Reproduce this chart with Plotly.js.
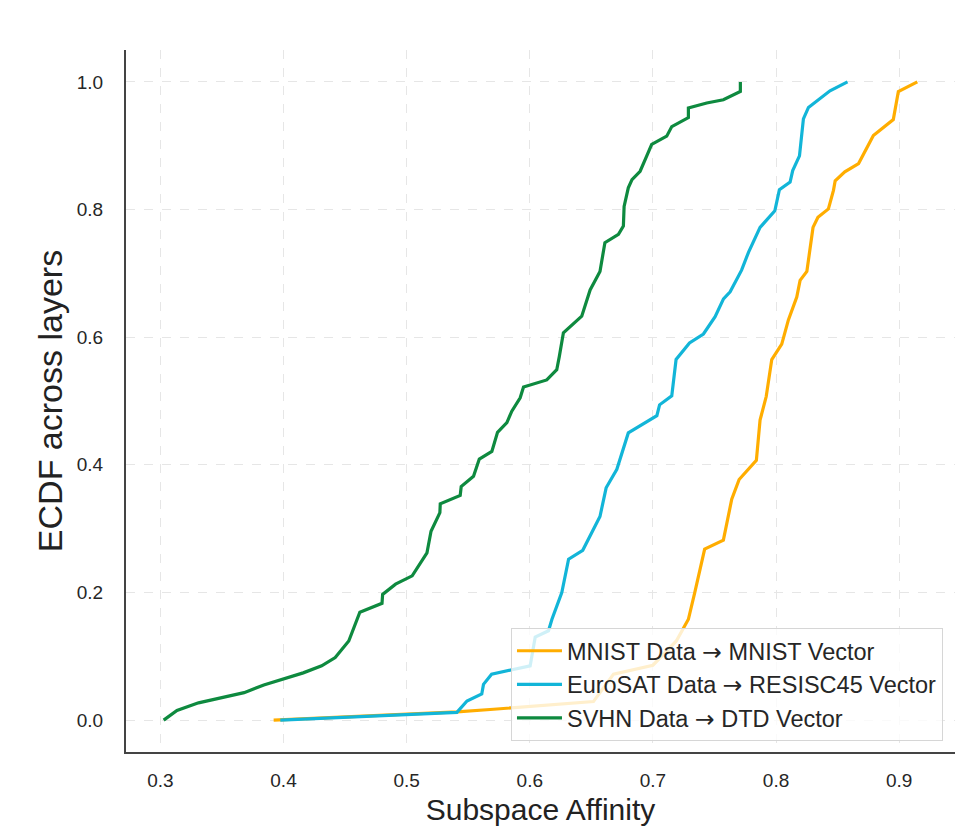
<!DOCTYPE html>
<html>
<head>
<meta charset="utf-8">
<script src="https://cdn.plot.ly/plotly-3.0.1.min.js"></script>
<style>html,body{margin:0;padding:0;background:#fff;}#chart{width:967px;height:827px;}</style>
</head>
<body>
<div id="chart"></div>
<script>
// Series names
const arrow = "<span style='font-family:DejaVu Sans'>\u2192</span>";
const seriesNames = [
  "MNIST Data " + arrow + " MNIST Vector",
  "EuroSAT Data " + arrow + " RESISC45 Vector",
  "SVHN Data " + arrow + " DTD Vector"
];
const seriesColors = ["#FFAD00", "#12B5D8", "#0E8A3F"];

// MNIST Data -> MNIST Vector (affinity, ECDF)
const mnistX = [0.392, 0.541, 0.5706, 0.6517, 0.668, 0.700, 0.719, 0.7288, 0.734, 0.7383, 0.742, 0.7572, 0.764, 0.770, 0.784, 0.787, 0.792, 0.7965, 0.8046, 0.810, 0.8168, 0.8195, 0.825, 0.830, 0.834, 0.8425, 0.8466, 0.848, 0.8558, 0.867, 0.879, 0.8952, 0.8993, 0.9147];
const mnistY = [0.000, 0.013, 0.017, 0.029, 0.072, 0.086, 0.124, 0.158, 0.200, 0.236, 0.268, 0.282, 0.346, 0.377, 0.407, 0.470, 0.507, 0.565, 0.589, 0.627, 0.663, 0.689, 0.703, 0.772, 0.788, 0.801, 0.830, 0.845, 0.859, 0.872, 0.916, 0.941, 0.985, 1.000];

// EuroSAT Data -> RESISC45 Vector
const eurosatX = [0.3974, 0.5408, 0.549, 0.561, 0.5624, 0.569, 0.6003, 0.6044, 0.6152, 0.618, 0.626, 0.6315, 0.643, 0.657, 0.662, 0.6707, 0.680, 0.7032, 0.7054, 0.7153, 0.7188, 0.7297, 0.741, 0.7505, 0.7573, 0.7627, 0.772, 0.7776, 0.787, 0.799, 0.8027, 0.8114, 0.8135, 0.819, 0.8222, 0.8263, 0.8438, 0.858];
const eurosatY = [0.000, 0.012, 0.030, 0.041, 0.056, 0.072, 0.085, 0.130, 0.140, 0.158, 0.200, 0.252, 0.266, 0.319, 0.364, 0.393, 0.450, 0.477, 0.494, 0.508, 0.565, 0.591, 0.605, 0.632, 0.660, 0.671, 0.705, 0.733, 0.772, 0.798, 0.831, 0.843, 0.861, 0.884, 0.942, 0.960, 0.986, 1.000];

// SVHN Data -> DTD Vector
const svhnX = [0.3027, 0.3135, 0.331, 0.349, 0.368, 0.384, 0.400, 0.416, 0.431, 0.442, 0.453, 0.462, 0.480, 0.4805, 0.491, 0.5045, 0.5165, 0.5198, 0.527, 0.5273, 0.5435, 0.5443, 0.5543, 0.559, 0.5692, 0.5738, 0.5814, 0.5854, 0.5922, 0.5949, 0.6138, 0.6219, 0.624, 0.6273, 0.6422, 0.649, 0.657, 0.661, 0.672, 0.676, 0.6766, 0.680, 0.683, 0.6896, 0.695, 0.699, 0.7112, 0.7153, 0.7288, 0.7288, 0.7437, 0.7572, 0.771, 0.771];
const svhnY = [0.000, 0.015, 0.027, 0.035, 0.043, 0.055, 0.065, 0.074, 0.085, 0.098, 0.124, 0.169, 0.183, 0.197, 0.213, 0.226, 0.262, 0.296, 0.325, 0.339, 0.352, 0.366, 0.382, 0.409, 0.421, 0.451, 0.466, 0.484, 0.505, 0.522, 0.533, 0.549, 0.570, 0.607, 0.633, 0.674, 0.703, 0.748, 0.761, 0.774, 0.805, 0.834, 0.847, 0.860, 0.884, 0.902, 0.915, 0.930, 0.944, 0.959, 0.967, 0.972, 0.985, 1.000];

const xTicks = [0.3, 0.4, 0.5, 0.6, 0.7, 0.8, 0.9];
const yTicks = [0.0, 0.2, 0.4, 0.6, 0.8, 1.0];

const xs = [mnistX, eurosatX, svhnX];
const ys = [mnistY, eurosatY, svhnY];
const traces = xs.map((x, i) => ({
  x: x, y: ys[i], type: "scatter", mode: "lines", name: seriesNames[i],
  line: {color: seriesColors[i], width: 3.2}
}));

const font = "Liberation Sans, Arial, Helvetica, sans-serif";
const layout = {
  width: 967, height: 827,
  margin: {l: 126, r: 12, t: 50, b: 75},
  paper_bgcolor: "#fff", plot_bgcolor: "#fff",
  font: {family: font, color: "#262626"},
  showlegend: true,
  legend: {
    x: 0.9855, y: 0.0157, xanchor: "right", yanchor: "bottom",
    bgcolor: "rgba(255,255,255,0.8)", bordercolor: "#d6d6d6", borderwidth: 1,
    font: {family: font, size: 23.5, color: "#262626"},
    tracegroupgap: 0, itemwidth: 45
  },
  xaxis: {
    range: [0.2721, 0.9453], tickvals: xTicks, ticktext: xTicks.map(v => v.toFixed(1)),
    showgrid: true, gridcolor: "#e6e6e6", griddash: "dash", gridwidth: 1,
    zeroline: false, showline: true, linecolor: "#444", linewidth: 2,
    ticks: "", ticklabelstandoff: 10,
    tickfont: {family: font, size: 19, color: "#262626"},
    title: {text: "Subspace Affinity", font: {family: font, size: 30, color: "#222"}, standoff: 9}
  },
  yaxis: {
    range: [-0.05, 1.05], tickvals: yTicks, ticktext: yTicks.map(v => v.toFixed(1)),
    showgrid: true, gridcolor: "#e6e6e6", griddash: "dash", gridwidth: 1,
    zeroline: false, showline: true, linecolor: "#444", linewidth: 2,
    ticks: "", ticklabelstandoff: 17,
    tickfont: {family: font, size: 19, color: "#262626"},
    title: {text: "ECDF across layers", font: {family: font, size: 34, color: "#222"}, standoff: 4}
  }
};

Plotly.newPlot("chart", traces, layout, {displayModeBar: false, staticPlot: true});
</script>
</body>
</html>
